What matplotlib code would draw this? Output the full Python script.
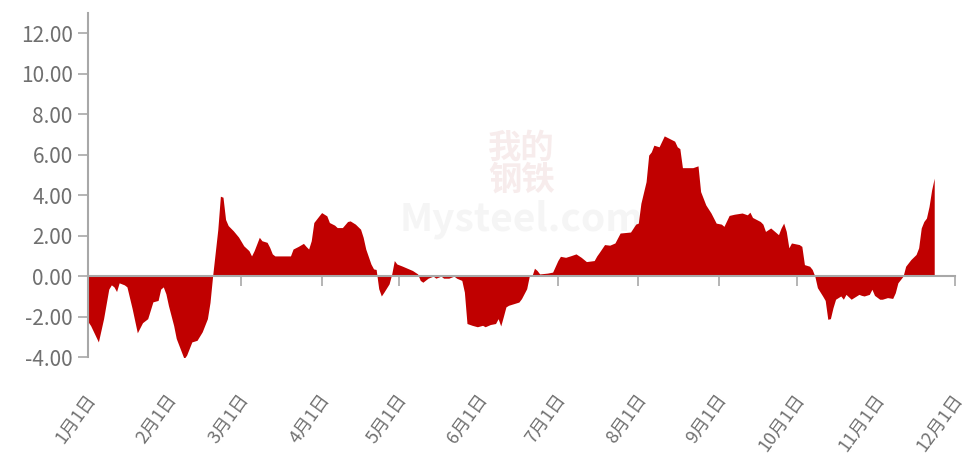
import matplotlib
matplotlib.use("Agg")
import matplotlib.pyplot as plt
import matplotlib.transforms as mtransforms
import numpy as np

plt.rcParams['font.family'] = ['Noto Sans CJK SC', 'DejaVu Sans']

# days since 1月1日 and values
days = [0, 1, 4, 6, 8, 9, 10, 11, 12, 14, 15, 17, 19, 21, 23, 25, 27, 28, 29, 30,
        31, 33, 34, 37, 38, 40, 42, 44, 46, 47, 48, 50, 51, 52, 53, 54, 56, 58, 60, 62,
        63, 64, 66, 67, 69, 70, 71, 72, 78, 79, 81, 83, 84, 85, 86, 87, 89, 90, 92, 93,
        95, 96, 98, 100, 101, 103, 105, 106, 107, 109, 110, 111, 112, 113, 114, 116, 117, 118, 119, 121,
        123, 125, 127, 128, 129, 131, 133, 134, 136, 137, 139, 141, 142, 144, 145, 146, 148, 150, 152, 153,
        155, 157, 158, 159, 160, 161, 162, 164, 166, 167, 169, 170, 171, 172, 173, 174, 177, 179, 181, 182,
        184, 186, 188, 190, 192, 195, 196, 197, 199, 201, 203, 205, 209, 211, 212, 213, 215, 216, 217, 218,
        220, 222, 224, 226, 227, 228, 229, 233, 235, 236, 238, 240, 242, 244, 245, 247, 249, 252, 254, 255,
        256, 259, 260, 261, 263, 266, 267, 268, 269, 270, 271, 274, 275, 276, 278, 279, 280, 281, 283, 284,
        285, 286, 287, 288, 290, 291, 292, 294, 295, 297, 298, 299, 301, 302, 303, 305, 306, 308, 310, 311,
        312, 314, 315, 317, 319, 320, 321, 322, 323, 324, 325, 326]
values = [-2.25, -2.44, -3.25, -2.10, -0.64, -0.43, -0.53, -0.76, -0.33, -0.43, -0.53, -1.60, -2.80, -2.30, -2.10, -1.27, -1.20, -0.64, -0.53, -0.87,
          -1.46, -2.44, -3.08, -4.08, -3.90, -3.25, -3.17, -2.75, -2.10, -1.30, 0.00, 2.30, 3.95, 3.90, 2.80, 2.50, 2.24, 1.93, 1.50, 1.26,
          1.00, 1.26, 1.92, 1.75, 1.67, 1.42, 1.10, 1.00, 1.00, 1.34, 1.47, 1.62, 1.47, 1.34, 1.75, 2.65, 2.98, 3.14, 2.98, 2.65,
          2.52, 2.40, 2.40, 2.70, 2.73, 2.57, 2.32, 1.92, 1.34, 0.60, 0.36, 0.33, -0.62, -0.98, -0.79, -0.38, 0.10, 0.77, 0.60, 0.50,
          0.39, 0.28, 0.11, -0.21, -0.30, -0.10, 0.00, -0.10, 0.00, -0.10, -0.10, 0.00, -0.10, -0.21, -0.79, -2.34, -2.43, -2.50, -2.43, -2.50,
          -2.39, -2.34, -2.10, -2.46, -2.00, -1.52, -1.44, -1.36, -1.28, -1.11, -0.62, 0.00, 0.00, 0.39, 0.28, 0.11, 0.15, 0.20, 0.77, 0.98,
          0.93, 1.01, 1.10, 0.93, 0.72, 0.77, 1.00, 1.18, 1.56, 1.53, 1.64, 2.13, 2.18, 2.57, 2.62, 3.60, 4.67, 5.98, 6.14, 6.47,
          6.39, 6.93, 6.80, 6.67, 6.39, 6.30, 5.36, 5.36, 5.45, 4.18, 3.52, 3.12, 2.62, 2.57, 2.46, 3.00, 3.06, 3.12, 3.03, 3.16,
          2.90, 2.70, 2.57, 2.21, 2.38, 2.05, 2.38, 2.62, 2.21, 1.40, 1.64, 1.56, 1.47, 0.57, 0.49, 0.33, 0.00, -0.57, -0.98, -1.20,
          -2.13, -2.10, -1.56, -1.14, -0.98, -1.14, -0.90, -1.14, -1.06, -0.90, -0.95, -0.98, -0.90, -0.65, -0.95, -1.14, -1.14, -1.06, -1.10, -0.82,
          -0.33, 0.00, 0.49, 0.82, 1.07, 1.40, 2.38, 2.70, 2.87, 3.44, 4.26, 4.84]

month_days = [0, 31, 59, 90, 120, 151, 181, 212, 243, 273, 304, 334]
month_labels = ['1月1日', '2月1日', '3月1日', '4月1日', '5月1日', '6月1日',
                '7月1日', '8月1日', '9月1日', '10月1日', '11月1日', '12月1日']
y_ticks = [-4, -2, 0, 2, 4, 6, 8, 10, 12]

fig = plt.figure(figsize=(9.66, 4.65), dpi=100)
ax = fig.add_axes([0.0911, 0.232, 0.8975, 0.740])

axis_grey = '#a8a8a8'
text_grey = '#707070'

# faint watermark in the middle
ax.text(0.5, 0.56, '我的\n钢铁', transform=ax.transAxes, ha='center', va='center',
        fontsize=24, color='#f7ecec', linespacing=0.95, zorder=0, fontweight='bold')
ax.text(0.5, 0.40, 'Mysteel.com', transform=ax.transAxes, ha='center', va='center',
        fontsize=28, color='#f5f5f5', zorder=0, fontweight='bold')

ax.fill_between(days, values, 0, color='#c00000', linewidth=0, zorder=2)

ax.set_xlim(0, 334)
ax.set_ylim(-4, 13)

ax.spines['top'].set_visible(False)
ax.spines['right'].set_visible(False)
ax.spines['left'].set_color(axis_grey)
ax.spines['left'].set_linewidth(1.5)
ax.spines['bottom'].set_position(('data', 0))
ax.spines['bottom'].set_color(axis_grey)
ax.spines['bottom'].set_linewidth(1.5)
ax.spines['bottom'].set_zorder(3)

ax.set_yticks(y_ticks)
ax.set_yticklabels(['%.2f' % v for v in y_ticks])
ax.tick_params(axis='y', direction='out', length=7, width=1.2, color=axis_grey,
               labelcolor=text_grey, labelsize=15, pad=4)

ax.set_xticks(month_days)
ax.tick_params(axis='x', direction='out', length=7, width=1.2, color=axis_grey,
               labelbottom=False)

# month labels below the plot area
offset = mtransforms.ScaledTranslation(-2 / 72, -24 / 72, fig.dpi_scale_trans)
trans = mtransforms.blended_transform_factory(ax.transData, ax.transAxes) + offset
for d, lab in zip(month_days, month_labels):
    ax.text(d, 0, lab, transform=trans, rotation=54, rotation_mode='anchor',
            ha='right', va='top', fontsize=13, color=text_grey)

fig.savefig('out.png', dpi=100)
